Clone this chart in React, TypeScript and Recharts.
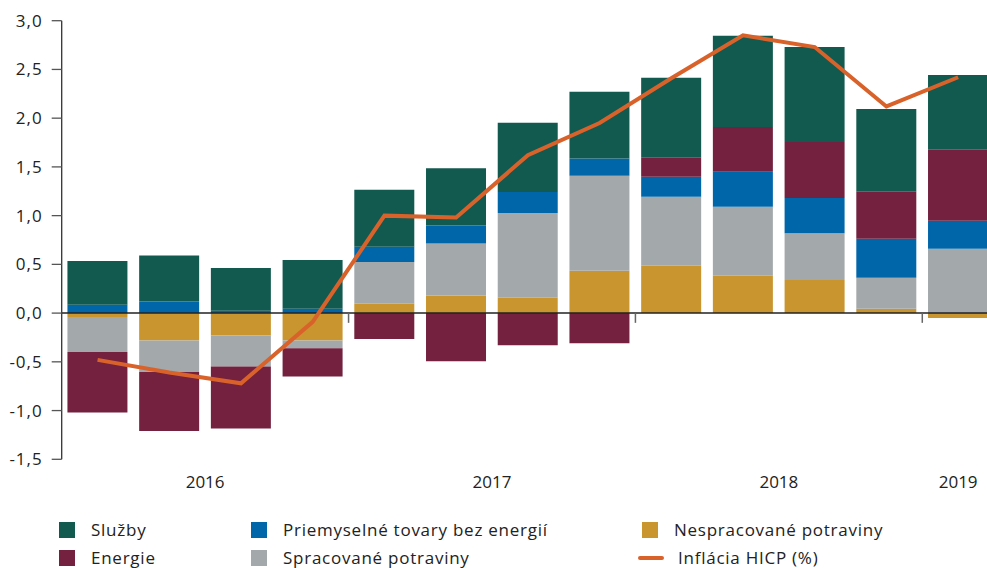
import React from 'react';
import { ComposedChart, Bar, Line, XAxis, YAxis, ReferenceLine } from 'recharts';

const quarters = ['2016Q1', '2016Q2', '2016Q3', '2016Q4', '2017Q1', '2017Q2', '2017Q3', '2017Q4', '2018Q1', '2018Q2', '2018Q3', '2018Q4', '2019Q1'];
const sluzby = [0.45, 0.47, 0.44, 0.5, 0.585, 0.585, 0.71, 0.685, 0.82, 0.935, 0.975, 0.851, 0.769];
const priemyselne = [0.085, 0.12, 0.024, 0.045, 0.155, 0.185, 0.215, 0.175, 0.205, 0.36, 0.36, 0.4, 0.287];
const nespracovane = [-0.04, -0.28, -0.23, -0.28, 0.095, 0.18, 0.157, 0.435, 0.485, 0.383, 0.34, 0.044, -0.05];
const energie = [-0.62, -0.605, -0.637, -0.29, -0.265, -0.495, -0.33, -0.31, 0.195, 0.46, 0.575, 0.482, 0.728];
const spracovane = [-0.36, -0.325, -0.317, -0.08, 0.43, 0.535, 0.87, 0.975, 0.71, 0.707, 0.48, 0.318, 0.66];
const hicp = [-0.48, -0.61, -0.72, -0.09, 1.0, 0.98, 1.62, 1.95, 2.41, 2.85, 2.73, 2.12, 2.42];

const yTicks = [-1.5, -1.0, -0.5, 0, 0.5, 1.0, 1.5, 2.0, 2.5, 3.0];
const years = ['2016', '2017', '2018', '2019'];

const C = {
  sluzby: '#125A4F',
  priemyselne: '#0066AA',
  nespracovane: '#C9952F',
  energie: '#73213E',
  spracovane: '#A3A9AB',
  hicp: '#D9622B',
  text: '#222222',
};

const data = quarters.map((q, i) => ({
  q,
  nespracovane: nespracovane[i],
  spracovane: spracovane[i],
  priemyselne: priemyselne[i],
  energie: energie[i],
  sluzby: sluzby[i],
  hicp: hicp[i],
}));

const quartersOfYear = (y: string) => quarters.filter((q) => q.startsWith(y));
const yearEnds = years.slice(0, -1).map((y) => {
  const qs = quartersOfYear(y);
  return qs[qs.length - 1];
});

const legendItems = [
  { label: 'Služby', color: C.sluzby, type: 'square', col: 0, row: 0 },
  { label: 'Energie', color: C.energie, type: 'square', col: 0, row: 1 },
  { label: 'Priemyselné tovary bez energií', color: C.priemyselne, type: 'square', col: 1, row: 0 },
  { label: 'Spracované potraviny', color: C.spracovane, type: 'square', col: 1, row: 1 },
  { label: 'Nespracované potraviny', color: C.nespracovane, type: 'square', col: 2, row: 0 },
  { label: 'Inflácia HICP (%)', color: C.hicp, type: 'line', col: 2, row: 1 },
];
const legendColX = [59, 251, 642];
const legendRowY = [521.7, 550];

const FONT = '"Open Sans", Lato, sans-serif';

const YearTick = (props: any) => {
  const { x, y, payload } = props;
  const v: string = payload?.value ?? '';
  const yr = v.slice(0, 4);
  const qs = quartersOfYear(yr);
  if (qs[0] !== v) return <g />;
  const half = typeof payload?.offset === 'number' && payload.offset > 0 ? payload.offset : 35.85;
  const shift = (qs.length - 1) * half;
  return (
    <text x={x + shift} y={y} dy={29} textAnchor="middle" fill={C.text} fontSize={17} fontFamily={FONT}>
      {yr}
    </text>
  );
};

export default function App() {
  return (
    <div
      style={{
        position: 'absolute',
        left: 0,
        top: 0,
        width: 987,
        height: 568,
        overflow: 'hidden',
        background: '#fff',
        fontFamily: FONT,
      }}
    >
      <ComposedChart
        width={994}
        height={568}
        data={data}
        stackOffset="sign"
        barCategoryGap="8%"
        margin={{ top: 20.7, right: 0, bottom: 0, left: 0 }}
      >
        <XAxis
          dataKey="q"
          interval={0}
          axisLine={false}
          tickLine={false}
          tickSize={0}
          tickMargin={0}
          height={108.7}
          tick={<YearTick />}
        />
        <YAxis
          domain={[-1.5, 3]}
          ticks={yTicks}
          interval={0}
          width={61.7}
          allowDataOverflow
          tickFormatter={(v: number) => v.toFixed(1).replace('.', ',')}
          axisLine={{ stroke: '#333', strokeWidth: 1.3 }}
          tickLine={{ stroke: '#555', strokeWidth: 1.3 }}
          tickSize={10}
          tickMargin={9}
          tick={{ fill: C.text, fontSize: 17, fontFamily: FONT, letterSpacing: 1 }}
        />
        <Bar dataKey="nespracovane" stackId="a" fill={C.nespracovane} isAnimationActive={false} />
        <Bar dataKey="spracovane" stackId="a" fill={C.spracovane} isAnimationActive={false} />
        <Bar dataKey="priemyselne" stackId="a" fill={C.priemyselne} isAnimationActive={false} />
        <Bar dataKey="energie" stackId="a" fill={C.energie} isAnimationActive={false} />
        <Bar dataKey="sluzby" stackId="a" fill={C.sluzby} isAnimationActive={false} />
        <ReferenceLine y={0} stroke="#222" strokeWidth={1.5} />
        {yearEnds.map((q) => (
          <ReferenceLine
            key={q}
            position="end"
            segment={[
              { x: q, y: 0 },
              { x: q, y: -0.1 },
            ]}
            stroke="#666"
            strokeWidth={1.5}
          />
        ))}
        <Line
          type="linear"
          dataKey="hicp"
          stroke={C.hicp}
          strokeWidth={4}
          dot={false}
          activeDot={false}
          isAnimationActive={false}
        />
      </ComposedChart>
      {legendItems.map((it) => (
        <div
          key={it.label}
          style={{
            position: 'absolute',
            left: legendColX[it.col] - (it.type === 'line' ? 4 : 0),
            top: legendRowY[it.row],
            height: 16,
            display: 'flex',
            alignItems: 'center',
            fontSize: 17,
            letterSpacing: 0.75,
            color: C.text,
            whiteSpace: 'nowrap',
            lineHeight: '16px',
          }}
        >
          {it.type === 'square' ? (
            <span style={{ display: 'inline-block', width: 16, height: 16, background: it.color, marginRight: 16 }} />
          ) : (
            <span
              style={{
                display: 'inline-block',
                width: 26,
                height: 4,
                borderRadius: 2,
                background: it.color,
                marginRight: 14,
              }}
            />
          )}
          <span>{it.label}</span>
        </div>
      ))}
    </div>
  );
}
